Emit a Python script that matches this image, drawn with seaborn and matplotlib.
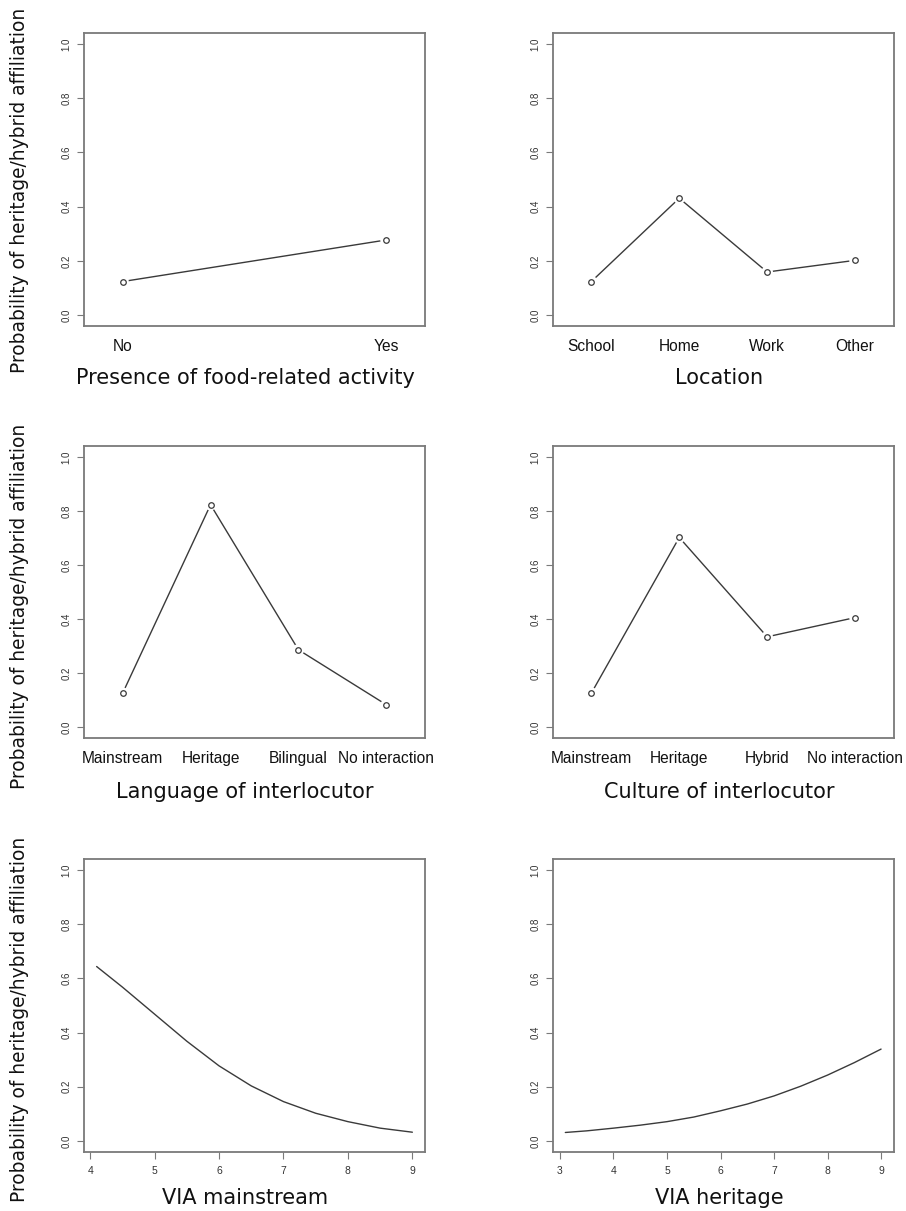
import numpy as np
import pandas as pd
import matplotlib.pyplot as plt
import seaborn as sns

# Values
food_cats = ['No', 'Yes']
food_prob = [0.124, 0.277]

loc_cats = ['School', 'Home', 'Work', 'Other']
loc_prob = [0.124, 0.431, 0.159, 0.202]

lang_cats = ['Mainstream', 'Heritage', 'Bilingual', 'No interaction']
lang_prob = [0.127, 0.823, 0.287, 0.084]

cult_cats = ['Mainstream', 'Heritage', 'Hybrid', 'No interaction']
cult_prob = [0.127, 0.702, 0.335, 0.406]

via_main_x = [4.1, 4.5, 5.0, 5.5, 6.0, 6.5, 7.0, 7.5, 8.0, 8.5, 9.0]
via_main_p = [0.644, 0.568, 0.468, 0.368, 0.277, 0.203, 0.145, 0.102, 0.071, 0.047, 0.032]

via_her_x = [3.1, 3.5, 4.0, 4.5, 5.0, 5.5, 6.0, 6.5, 7.0, 7.5, 8.0, 8.5, 9.0]
via_her_p = [0.031, 0.037, 0.047, 0.058, 0.071, 0.088, 0.111, 0.136, 0.166, 0.202, 0.243, 0.289, 0.339]

ylab = 'Probability of heritage/hybrid affiliation'
LINE = '#3a3a3a'
BOX = '#7a7a7a'

sns.set_style('ticks')
plt.rcParams['font.family'] = ['Liberation Sans', 'DejaVu Sans']

W, H = 906, 1211
fig = plt.figure(figsize=(W / 100, H / 100), dpi=100)

cols = [84, 552.7]
rows = [(33, 326), (446, 738.3), (859.3, 1151.7)]


def make_ax(r, c):
    top, bot = rows[r]
    ax = fig.add_axes([cols[c] / W, 1 - bot / H, 341 / W, (bot - top) / H])
    for s in ax.spines.values():
        s.set_color(BOX)
        s.set_linewidth(1.3)
        s.set_visible(True)
    ax.set_ylim(-0.04, 1.04)
    ax.set_yticks([0, 0.2, 0.4, 0.6, 0.8, 1.0])
    ax.set_yticklabels(['0.0', '0.2', '0.4', '0.6', '0.8', '1.0'],
                       rotation=90, va='center', fontsize=7)
    ax.tick_params(axis='y', length=5, width=0.8, color=BOX, pad=4,
                   labelcolor='#333333')
    ax.set_xlabel('')
    ax.set_ylabel('')
    return ax


def cat_panel(ax, cats, probs):
    df = pd.DataFrame({'cat': cats, 'p': probs})
    sns.lineplot(data=df, x='cat', y='p', sort=False, color=LINE,
                 linewidth=1.0, ax=ax)
    # white halo first so the line stops short of each point, like type="b"
    sns.scatterplot(data=df, x='cat', y='p', s=70, color='white',
                    edgecolor='none', ax=ax, zorder=3)
    sns.scatterplot(data=df, x='cat', y='p', s=16, facecolor='white',
                    edgecolor=LINE, linewidth=0.9, ax=ax, zorder=4)
    n = len(cats)
    pad = 0.148 if n == 2 else 0.44
    ax.set_xlim(-pad, n - 1 + pad)
    ax.tick_params(axis='x', length=0, pad=9, labelsize=11.2,
                   labelcolor='#111111')
    ax.set_xlabel('')
    ax.set_ylabel('')


def cont_panel(ax, xs, ps, ticks):
    df = pd.DataFrame({'x': xs, 'p': ps})
    sns.lineplot(data=df, x='x', y='p', color=LINE, linewidth=1.0, ax=ax)
    span = xs[-1] - xs[0]
    ax.set_xlim(xs[0] - 0.04 * span, xs[-1] + 0.04 * span)
    ax.set_xticks(ticks)
    ax.set_xticklabels([str(t) for t in ticks])
    ax.tick_params(axis='x', length=5, width=0.8, color=BOX, pad=5,
                   labelsize=7.5, labelcolor='#333333')
    ax.set_xlabel('')
    ax.set_ylabel('')


cat_panel(make_ax(0, 0), food_cats, food_prob)
cat_panel(make_ax(0, 1), loc_cats, loc_prob)
cat_panel(make_ax(1, 0), lang_cats, lang_prob)
cat_panel(make_ax(1, 1), cult_cats, cult_prob)
cont_panel(make_ax(2, 0), via_main_x, via_main_p, [4, 5, 6, 7, 8, 9])
cont_panel(make_ax(2, 1), via_her_x, via_her_p, [3, 4, 5, 6, 7, 8, 9])

xlabels = [('Presence of food-related activity', 'Location'),
           ('Language of interlocutor', 'Culture of interlocutor'),
           ('VIA mainstream', 'VIA heritage')]
xlab_y = [378, 792, 1198]
ylab_y = [190, 606.7, 1019]

for r in range(3):
    for c, xc in enumerate([245, 719]):
        fig.text(xc / W, 1 - xlab_y[r] / H, xlabels[r][c], ha='center',
                 va='center', fontsize=15, family='DejaVu Sans',
                 color='#111111')
    fig.text(20 / W, 1 - ylab_y[r] / H, ylab, rotation=90, ha='center',
             va='center', fontsize=13.4, family='DejaVu Sans', color='#111111')

fig.savefig('out.png', dpi=100)
